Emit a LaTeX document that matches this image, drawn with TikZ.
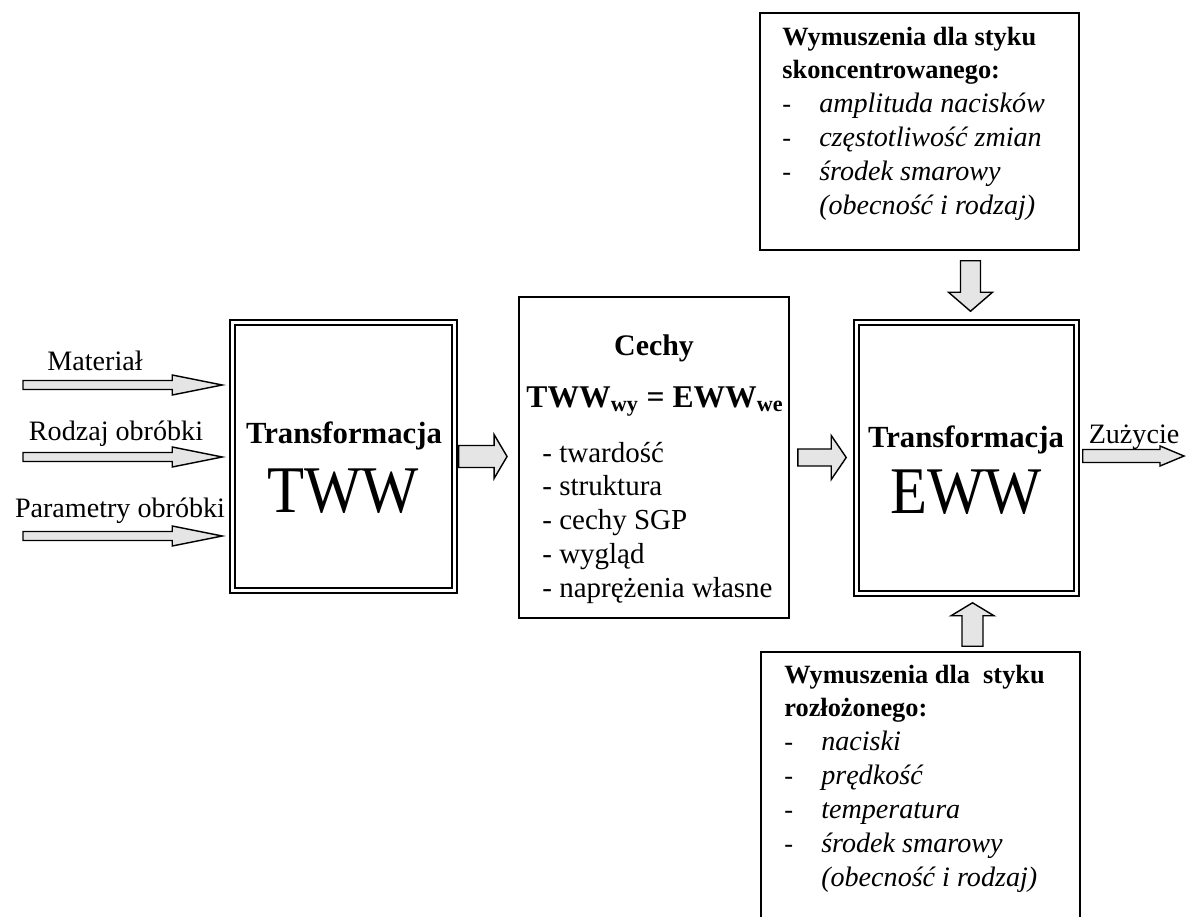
\documentclass[tikz,border=0pt]{standalone}
\usepackage{fontspec}
\setmainfont{Liberation Serif}
\usetikzlibrary{calc,positioning}

% block arrow: from, to, half shaft, half head, head length (px)
\newcommand\fatarrow[5]{%
  \coordinate (fa-b) at ($(#2)!#5*0.02cm!(#1)$);
  \draw[fat] ($(#1)!#3*0.02cm!90:(#2)$) -- ($(fa-b)!#3*0.02cm!90:(#2)$)
    -- ($(fa-b)!#4*0.02cm!90:(#2)$) -- (#2) -- ($(fa-b)!#4*0.02cm!-90:(#2)$)
    -- ($(fa-b)!#3*0.02cm!-90:(#2)$) -- ($(#1)!#3*0.02cm!-90:(#2)$) -- cycle;}
% second (inner) line of a double frame
\newcommand\dframe[1]{%
  \draw[line width=1.3pt] ($(#1.north west)+(6,6)$) rectangle ($(#1.south east)+(-6,-6)$);}
% one italic item of a side list
\newcommand\itm[2][-]{\makebox[21pt][l]{#1}{\fontsize{16}{19.3}\selectfont\itshape #2}}

\begin{document}
\begin{tikzpicture}[
    x=0.02cm, y=-0.02cm,
    frame/.style={draw, line width=0.9pt, inner sep=0pt},
    fat/.style={draw, line width=0.8pt, fill=black!10, line join=miter},
    lbl/.style={inner sep=0pt, anchor=base, font=\fontsize{16}{19}\selectfont},
    ttl/.style={inner sep=0pt, anchor=base, font=\fontsize{17.5}{20}\selectfont\bfseries},
    big/.style={inner sep=0pt, anchor=base, font=\fontsize{34.5}{38}\selectfont},
    list/.style={inner sep=0pt, anchor=base west, font=\fontsize{16.5}{19.27}\selectfont},
    side/.style={inner sep=0pt, anchor=base west, font=\fontsize{15}{19.3}\selectfont}
]
\clip (0,0) rectangle (1186,916);

% boxes
\node[frame, minimum width=4.54cm, minimum height=5.46cm] (tww) at (343.5,456.5) {};
\dframe{tww}
\node[frame, line width=1.1pt, minimum width=5.4cm, minimum height=6.42cm] (cechy) at (654,457.5) {};
\node[frame, minimum width=4.5cm, minimum height=5.52cm] (eww) at (966.5,458) {};
\dframe{eww}
\node[frame, minimum width=6.38cm, minimum height=4.74cm] (wym1) at (919.5,131.5) {};
\node[frame, minimum width=6.38cm, minimum height=6cm] (wym2) at (920.5,802) {};

% texts
\node[ttl] (twwt) at (344,443) {Transformacja};
\node[big] (twwb) at (343,512) {\scalebox{1}[1.1]{TWW}};
\node[ttl] (ewwt) at (966,447) {Transformacja};
\node[big] (ewwb) at (966,513) {\scalebox{1}[1.1]{EWW}};
\node[lbl] (mat) at (95,370) {Materiał};
\node[lbl] (rodz) at (116,440) {Rodzaj obróbki};
\node[lbl] (par) at (120,517) {Parametry obróbki};
\node[lbl] (zuz) at (1134,443) {Zużycie};
\node[ttl, font=\fontsize{17}{20}\selectfont\bfseries] (cechyt) at (654,355) {Cechy};
\node[ttl, font=\fontsize{18}{21}\selectfont\bfseries] (rown) at (655,407)
  {TWW\textsubscript{wy} = EWW\textsubscript{we}};
\node[list] (cechyl) at (542,462) {\begin{tabular}[t]{@{}l@{}}
  - twardość\\ - struktura\\ - cechy SGP\\ - wygląd\\ - naprężenia własne
  \end{tabular}};
\node[side] (wym1t) at (782,45) {\begin{tabular}[t]{@{}l@{}}
  \textbf{Wymuszenia dla styku}\\ \textbf{skoncentrowanego:}\\
  \itm{amplituda nacisków}\\
  \itm{częstotliwość zmian}\\
  \itm{środek smarowy}\\
  \itm[]{(obecność i rodzaj)}
  \end{tabular}};
\node[side] (wym2t) at (784,683) {\begin{tabular}[t]{@{}l@{}}
  \textbf{Wymuszenia dla\ \ styku}\\ \textbf{rozłożonego:}\\
  \itm{naciski}\\
  \itm{prędkość}\\
  \itm{temperatura}\\
  \itm{środek smarowy}\\
  \itm[]{(obecność i rodzaj)}
  \end{tabular}};

% inputs
\foreach \y [count=\i] in {385,457,536} {
  \coordinate (a\i) at (23,\y);
  \coordinate (b\i) at ($(tww.west |- a\i)+(-7,0)$);
  \fatarrow{a\i}{b\i}{4.5}{10}{50}
}

% between the boxes
\coordinate (c1) at ($(tww.east)+(1,0)$);
\coordinate (c2) at ($(cechy.west |- tww.east)+(-11,0)$);
\fatarrow{c1}{c2}{11}{22}{13}
\coordinate (c3) at ($(cechy.east)+(8,0)$);
\coordinate (c4) at ($(eww.west |- cechy.east)+(-7,0)$);
\fatarrow{c3}{c4}{8.5}{22}{15}
\coordinate (c5) at ($(eww.east)+(3,-2)$);
\coordinate (out) at (1184,456);
\fatarrow{c5}{out}{6.5}{10}{24}

% from the side boxes
\coordinate (d1) at ($(wym1.south -| eww.north)+(4,10)$);
\coordinate (d2) at ($(eww.north)+(4,-8)$);
\fatarrow{d1}{d2}{10}{22}{19}
\coordinate (u1) at ($(wym2.north -| eww.south)+(6,-5)$);
\coordinate (u2) at ($(eww.south)+(6,6)$);
\fatarrow{u1}{u2}{10.5}{21.5}{13}
\end{tikzpicture}
\end{document}
